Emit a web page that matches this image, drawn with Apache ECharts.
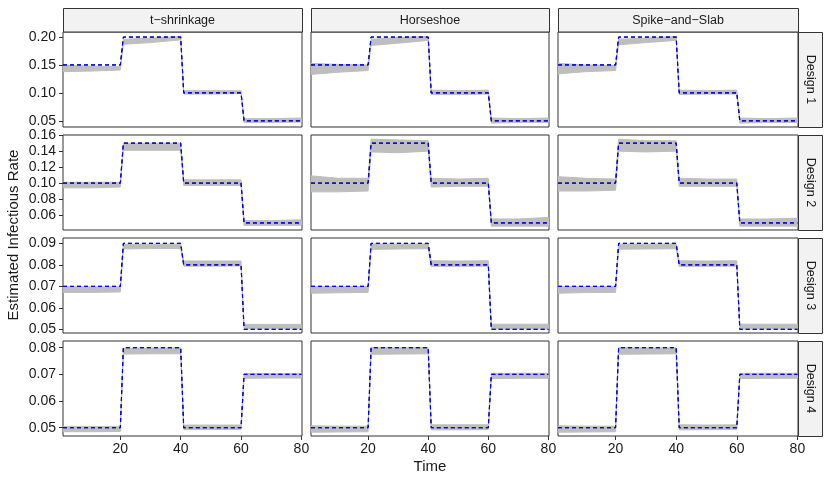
<!DOCTYPE html>
<html>
<head>
<meta charset="utf-8">
<script src="https://cdn.jsdelivr.net/npm/echarts@6/dist/echarts.min.js"></script>
<style>
  html, body { margin: 0; background: #fff; }
  #chart { width: 830px; height: 485px; }
</style>
</head>
<body>
<div id="chart"></div>
<script>
// facet labels
var methods = ['t\u2212shrinkage', 'Horseshoe', 'Spike\u2212and\u2212Slab'];
var designs = ['Design 1', 'Design 2', 'Design 3', 'Design 4'];

// true rate and estimated rate (piecewise constant, one row per design)
var stepTimes = [1, 20, 21, 40, 41, 60, 61, 80];
var trueRate = [
  [0.15, 0.15, 0.20, 0.20, 0.10, 0.10, 0.05, 0.05],
  [0.10, 0.10, 0.15, 0.15, 0.10, 0.10, 0.05, 0.05],
  [0.07, 0.07, 0.09, 0.09, 0.08, 0.08, 0.05, 0.05],
  [0.05, 0.05, 0.08, 0.08, 0.05, 0.05, 0.07, 0.07]
];
var estRate = [
  [0.15, 0.15, 0.20, 0.20, 0.10, 0.10, 0.05, 0.05],
  [0.10, 0.10, 0.15, 0.15, 0.10, 0.10, 0.05, 0.05],
  [0.07, 0.07, 0.09, 0.09, 0.08, 0.08, 0.05, 0.05],
  [0.05, 0.05, 0.08, 0.08, 0.05, 0.05, 0.07, 0.07]
];

// grey band of replicate estimates
var bandTimes = [1, 10, 20, 21, 30, 40, 41, 50, 60, 61, 70, 80];
// rows: t-shrinkage, Horseshoe, Spike-and-Slab
var bandLow1 = [
  [0.138, 0.139, 0.141, 0.187, 0.190, 0.195, 0.098, 0.098, 0.099, 0.047, 0.047, 0.048],
  [0.133, 0.137, 0.140, 0.185, 0.189, 0.194, 0.097, 0.097, 0.098, 0.046, 0.047, 0.047],
  [0.134, 0.138, 0.140, 0.186, 0.190, 0.194, 0.097, 0.098, 0.098, 0.046, 0.047, 0.047]
];
var bandHigh1 = [
  [0.149, 0.148, 0.147, 0.196, 0.198, 0.201, 0.104, 0.104, 0.104, 0.054, 0.054, 0.055],
  [0.153, 0.151, 0.150, 0.196, 0.199, 0.201, 0.105, 0.104, 0.105, 0.055, 0.054, 0.055],
  [0.153, 0.150, 0.149, 0.196, 0.198, 0.201, 0.105, 0.104, 0.105, 0.055, 0.054, 0.055]
];
var bandLow2 = [
  [0.094, 0.094, 0.095, 0.141, 0.141, 0.141, 0.097, 0.097, 0.097, 0.047, 0.047, 0.047],
  [0.089, 0.089, 0.090, 0.139, 0.138, 0.140, 0.095, 0.096, 0.096, 0.046, 0.046, 0.046],
  [0.090, 0.090, 0.091, 0.140, 0.139, 0.140, 0.096, 0.096, 0.096, 0.046, 0.046, 0.046]
];
var bandHigh2 = [
  [0.101, 0.101, 0.101, 0.150, 0.150, 0.150, 0.104, 0.104, 0.104, 0.053, 0.053, 0.054],
  [0.109, 0.106, 0.106, 0.155, 0.154, 0.153, 0.106, 0.105, 0.106, 0.055, 0.055, 0.057],
  [0.108, 0.106, 0.105, 0.155, 0.153, 0.153, 0.106, 0.105, 0.105, 0.055, 0.055, 0.056]
];
var bandLow3 = [
  [0.0672, 0.0672, 0.0674, 0.0874, 0.0876, 0.0876, 0.0794, 0.0794, 0.0795, 0.0503, 0.0503, 0.0503],
  [0.0668, 0.0670, 0.0672, 0.0872, 0.0874, 0.0875, 0.0793, 0.0793, 0.0794, 0.0502, 0.0502, 0.0502],
  [0.0668, 0.0671, 0.0672, 0.0873, 0.0874, 0.0875, 0.0793, 0.0793, 0.0794, 0.0502, 0.0502, 0.0502]
];
var bandHigh3 = [
  [0.0698, 0.0698, 0.0698, 0.0895, 0.0895, 0.0896, 0.0818, 0.0818, 0.0818, 0.0523, 0.0523, 0.0523],
  [0.0700, 0.0699, 0.0699, 0.0897, 0.0896, 0.0897, 0.0819, 0.0818, 0.0819, 0.0524, 0.0524, 0.0524],
  [0.0700, 0.0699, 0.0699, 0.0896, 0.0896, 0.0897, 0.0819, 0.0818, 0.0819, 0.0524, 0.0524, 0.0524]
];
var bandLow4 = [
  [0.0485, 0.0485, 0.0486, 0.0776, 0.0777, 0.0777, 0.0493, 0.0493, 0.0494, 0.0685, 0.0686, 0.0686],
  [0.0483, 0.0484, 0.0485, 0.0775, 0.0776, 0.0777, 0.0492, 0.0492, 0.0493, 0.0684, 0.0685, 0.0685],
  [0.0483, 0.0484, 0.0485, 0.0775, 0.0776, 0.0777, 0.0492, 0.0493, 0.0493, 0.0684, 0.0685, 0.0685]
];
var bandHigh4 = [
  [0.0505, 0.0505, 0.0505, 0.0798, 0.0798, 0.0799, 0.0510, 0.0510, 0.0510, 0.0703, 0.0703, 0.0703],
  [0.0507, 0.0506, 0.0506, 0.0800, 0.0799, 0.0800, 0.0511, 0.0511, 0.0511, 0.0704, 0.0704, 0.0704],
  [0.0507, 0.0506, 0.0506, 0.0800, 0.0799, 0.0799, 0.0511, 0.0510, 0.0511, 0.0704, 0.0704, 0.0704]
];
var bandLow = [bandLow1, bandLow2, bandLow3, bandLow4];
var bandHigh = [bandHigh1, bandHigh2, bandHigh3, bandHigh4];

// tick labels
var xTicks = [20, 40, 60, 80];
var yTicks = [
  [0.05, 0.10, 0.15, 0.20],
  [0.06, 0.08, 0.10, 0.12, 0.14, 0.16],
  [0.05, 0.06, 0.07, 0.08, 0.09],
  [0.05, 0.06, 0.07, 0.08]
];
var yMin = [0.039, 0.0412, 0.0483, 0.0469];
var yMax = [0.209, 0.1602, 0.0925, 0.0825];

// layout
var colLeft = [63, 311, 558], colW = [239, 238, 240];
var rowTop = [32, 135, 238, 341], rowH = 95;
var font = 'Liberation Sans, Arial, Helvetica, sans-serif';
var ink = '#1a1a1a', border = '#333333';

var myChart = echarts.init(document.getElementById('chart'));

var grids = [], xAxes = [], yAxes = [], series = [], graphics = [];

// band polygon: upper edge left to right, then lower edge back
function makeBand(low, high) {
  var data = bandTimes.map(function (t, i) { return [t, low[i], high[i]]; });
  return {
    data: data,
    renderItem: function (params, api) {
      if (params.dataIndex !== 0) return;
      var pts = [];
      for (var i = 0; i < data.length; i++) pts.push(api.coord([data[i][0], data[i][2]]));
      for (var j = data.length - 1; j >= 0; j--) pts.push(api.coord([data[j][0], data[j][1]]));
      return {
        type: 'polygon',
        shape: { points: pts },
        style: { fill: '#bebebe', stroke: '#bebebe', lineWidth: 1 }
      };
    }
  };
}

for (var r = 0; r < 4; r++) {
  for (var c = 0; c < 3; c++) {
    var idx = r * 3 + c;
    grids.push({
      left: colLeft[c], top: rowTop[r], width: colW[c], height: rowH,
      show: true, borderColor: border, borderWidth: 1, backgroundColor: '#fff'
    });
    xAxes.push({
      type: 'value', gridIndex: idx, min: 1, max: 80.2,
      splitLine: { show: false }, axisLine: { show: false },
      axisTick: { show: r === 3, length: 4, lineStyle: { color: border }, customValues: xTicks },
      axisLabel: { show: r === 3, customValues: xTicks, fontSize: 14, color: ink, margin: 6, fontFamily: font }
    });
    yAxes.push({
      type: 'value', gridIndex: idx, min: yMin[r], max: yMax[r],
      splitLine: { show: false }, axisLine: { show: false },
      axisTick: { show: c === 0, length: 4, lineStyle: { color: border }, customValues: yTicks[r] },
      axisLabel: {
        show: c === 0, customValues: yTicks[r], fontSize: 14, color: ink, margin: 7, fontFamily: font,
        formatter: function (v) { return v.toFixed(2); }
      }
    });

    var band = makeBand(bandLow[r][c], bandHigh[r][c]);
    series.push({
      type: 'custom', xAxisIndex: idx, yAxisIndex: idx, clip: true,
      data: band.data, renderItem: band.renderItem, silent: true
    });
    var tr = trueRate[r], er = estRate[r];
    series.push({
      type: 'line', xAxisIndex: idx, yAxisIndex: idx,
      data: stepTimes.map(function (t, i) { return [t, tr[i]]; }),
      symbol: 'none', lineStyle: { color: '#000', width: 1, type: [4, 3] }, silent: true
    });
    series.push({
      type: 'line', xAxisIndex: idx, yAxisIndex: idx,
      data: stepTimes.map(function (t, i) { return [t, er[i]]; }),
      symbol: 'none', lineStyle: { color: '#0000ff', width: 1.2, type: [4, 3] }, silent: true
    });
  }
}

// top strips
for (var c = 0; c < 3; c++) {
  graphics.push({
    type: 'rect', shape: { x: colLeft[c] + 0.5, y: 8.5, width: colW[c], height: 23.5 },
    style: { fill: '#f2f2f2', stroke: border, lineWidth: 1 }
  });
  graphics.push({
    type: 'text', x: colLeft[c] + colW[c] / 2, y: 20.5,
    style: { text: methods[c], fontSize: 12.5, fill: ink, fontFamily: font, textAlign: 'center', textVerticalAlign: 'middle' }
  });
}
// right strips
for (var r = 0; r < 4; r++) {
  graphics.push({
    type: 'rect', shape: { x: 798.5, y: rowTop[r] + 0.5, width: 24, height: rowH },
    style: { fill: '#f2f2f2', stroke: border, lineWidth: 1 }
  });
  graphics.push({
    type: 'text', x: 810.5, y: rowTop[r] + rowH / 2, rotation: -Math.PI / 2,
    style: { text: designs[r], fontSize: 12.5, fill: ink, fontFamily: font, textAlign: 'center', textVerticalAlign: 'middle' }
  });
}
// axis titles
graphics.push({
  type: 'text', x: 430, y: 467,
  style: { text: 'Time', fontSize: 15, fill: ink, fontFamily: font, textAlign: 'center', textVerticalAlign: 'middle' }
});
graphics.push({
  type: 'text', x: 14, y: 235, rotation: Math.PI / 2,
  style: { text: 'Estimated Infectious Rate', fontSize: 15, fill: ink, fontFamily: font, textAlign: 'center', textVerticalAlign: 'middle' }
});

var option = {
  animation: false,
  backgroundColor: '#fff',
  grid: grids,
  xAxis: xAxes,
  yAxis: yAxes,
  series: series,
  graphic: graphics
};

myChart.setOption(option);
</script>
</body>
</html>
